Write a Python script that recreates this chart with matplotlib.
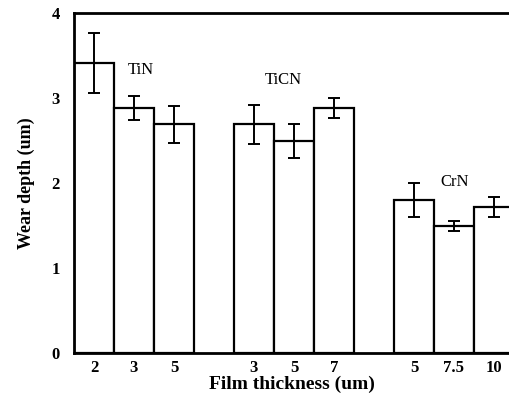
import numpy as np
import matplotlib
matplotlib.use("Agg")
import matplotlib.pyplot as plt

plt.rcParams['font.family'] = ['Liberation Serif', 'DejaVu Serif']

# wear depth per coating and film thickness
films = ['TiN', 'TiCN', 'CrN']
thickness = ['2', '3', '5', '3', '5', '7', '5', '7.5', '10']
depth = [3.41, 2.88, 2.69, 2.69, 2.49, 2.88, 1.80, 1.49, 1.72]
err = [0.35, 0.14, 0.22, 0.23, 0.20, 0.12, 0.20, 0.06, 0.12]
positions = [0, 1, 2, 4, 5, 6, 8, 9, 10]

fig = plt.figure(figsize=(5.1, 4.0), dpi=100)
ax = fig.add_axes([0.145, 0.1175, 0.855, 0.85])

ax.bar(positions, depth, width=1.0, color='white', edgecolor='black', linewidth=1.6)
ax.errorbar(positions, depth, yerr=err, fmt='none', ecolor='black',
            elinewidth=1.4, capsize=4, capthick=1.4)

# coating names next to each group
ax.text(0.85, 3.33, films[0], fontsize=12, va='center')
ax.text(4.28, 3.21, films[1], fontsize=12, va='center')
ax.text(8.65, 2.01, films[2], fontsize=12, va='center')

ax.set_xlim(-0.5, 10.4)
ax.set_ylim(0, 4)
ax.set_xticks(positions)
ax.set_xticklabels(thickness)
ax.set_yticks([0, 1, 2, 3, 4])
ax.tick_params(length=0, labelsize=12, pad=5)
ax.tick_params(axis='y', pad=10)
for lbl in ax.get_xticklabels() + ax.get_yticklabels():
    lbl.set_fontweight('bold')

for side in ['left', 'bottom', 'top']:
    ax.spines[side].set_linewidth(2)
ax.spines['right'].set_visible(False)

ax.set_ylabel('Wear depth (um)', fontsize=13, fontweight='bold', labelpad=12)
ax.set_xlabel('Film thickness (um)', fontsize=14, fontweight='bold', labelpad=0)

fig.savefig('out.png', dpi=100)
